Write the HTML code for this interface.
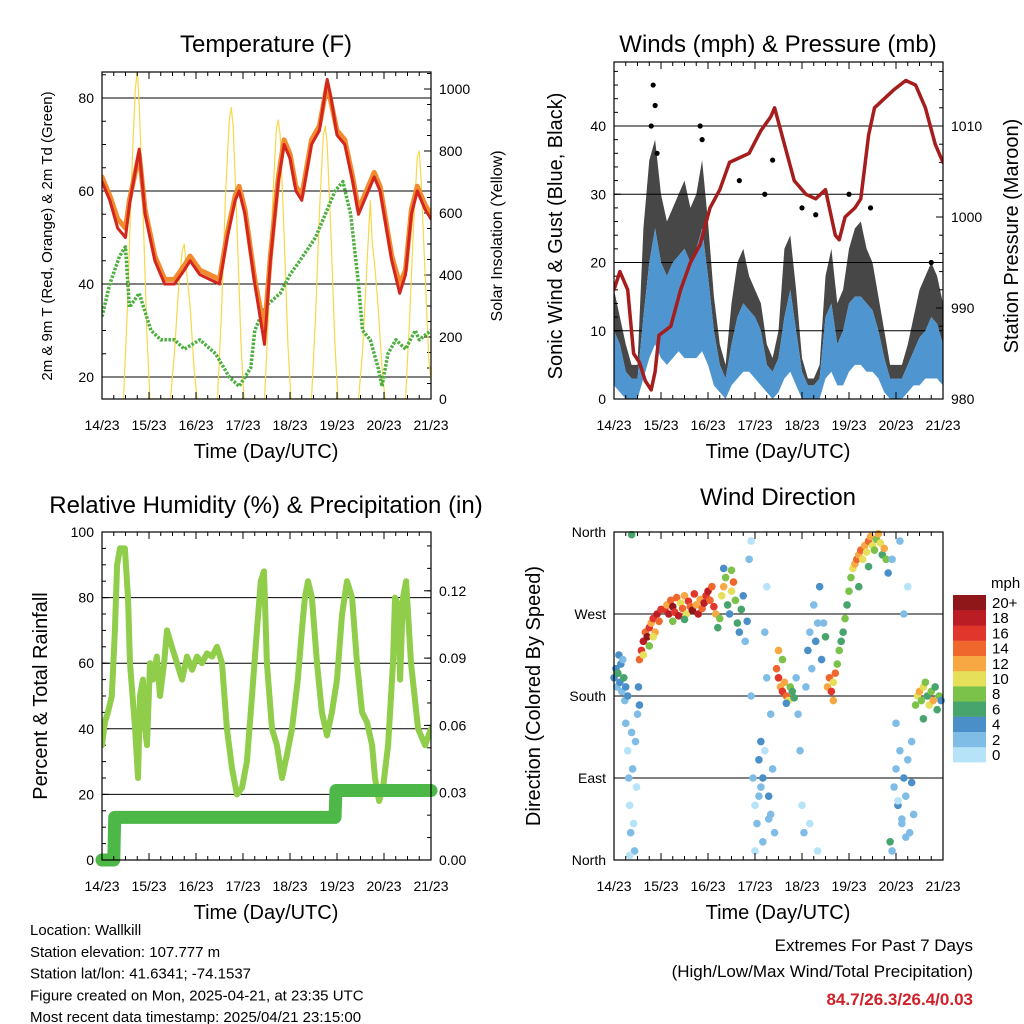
<!DOCTYPE html>
<html><head><meta charset="utf-8">
<style>
html,body{margin:0;padding:0;background:#fff;}
svg{display:block;font-family:"Liberation Sans",sans-serif;}
</style></head>
<body>
<svg id="chart" width="1024" height="1024" viewBox="0 0 1024 1024" xmlns="http://www.w3.org/2000/svg"></svg>
<script>
// ---------- DATA ----------
const days = ["14/23","15/23","16/23","17/23","18/23","19/23","20/23","21/23"];
const tempTimes = [0,4,8,12,14,19,22,27,32,37,42,45,50,55,60,64,68,70,73,78,83,86,90,93,96,99,102,107,111,115,117,120,124,128,131,136,139,142,148,152,155,158,161,165,168];
const temp2m = [62,58,52,50,57,69,55,45,40,40,43,45,42,41,40,50,58,60,55,40,27,45,62,70,67,60,58,70,73,84,80,72,70,62,55,60,63,60,45,38,42,55,60,56,54];
const temp9m = [63,59,54,52,58,68,56,46,41,41,44,46,43,42,41,51,59,61,56,41,30,46,63,71,68,61,59,71,74,83,79,73,71,63,56,61,64,61,46,40,43,56,61,57,55];
const dewTimes = [0,4,9,12,14,19,25,30,37,42,50,58,65,70,76,78,83,91,96,101,109,114,119,123,127,131,133,137,141,143,146,150,155,160,162,168];
const dewVals = [33,40,46,48,35,38,30,28,28,26,28,25,20,18,22,30,35,38,42,45,50,55,60,62,55,40,30,28,22,18,25,28,26,30,28,30];
const solarTimes = [11,13,15,17,18,19,21,23,24.5, 35,37,39,41,42,43,45,47,48.5, 59,61,63,65,66,67,69,71,72.5, 83,85,87,89,90,91,93,95,96.5, 107,109,111,113,114,115,117,119,120.5, 131,133,135,137,138,139,141,143,144.5, 155,157,159,161,162,163,165,167,168];
const solarVals = [0,300,700,1000,1060,950,600,200,0, 0,150,350,480,500,420,300,100,0, 0,280,650,900,940,880,550,180,0, 0,270,620,870,900,850,530,170,0, 0,260,600,850,880,820,520,170,0, 0,150,400,640,500,450,300,100,0, 0,250,550,780,800,700,400,120,60];
const presTimes = [0,3,7,10,13,16,19,21,23,29,34,39,44,49,54,59,64,69,75,80,82,87,92,98,103,108,113,115,118,123,126,130,133,138,143,149,154,159,164,168];
const presVals = [992,994,992,985,984,982,981,983,987,988,992,995,997,1001,1003,1006,1006.5,1007,1009.5,1011,1012,1008,1004,1002.5,1002,1003,998,997.5,1000,1001,1002,1009,1012,1013,1014,1015,1014.5,1012,1008,1006];
const windTimes = [0,3,6,9,12,15,18,21,24,27,30,33,36,39,42,45,48,51,54,57,60,63,66,69,72,75,78,81,84,87,90,93,96,99,102,105,108,111,114,117,120,123,126,129,132,135,138,141,144,147,150,153,156,159,162,165,168];
const windHigh = [10,8,4,3,3,12,20,25,20,18,20,21,22,20,22,25,18,10,5,3,8,12,14,13,12,10,5,4,6,12,16,10,4,2,2,3,12,14,8,10,14,15,15,14,13,10,6,3,3,3,5,7,9,10,12,11,8];
const windLow = [2,1,0,0,0,3,6,8,6,5,6,7,6,6,6,7,5,2,1,0,2,3,4,4,3,2,1,0,1,3,4,2,0,0,0,0,3,4,2,2,4,5,5,4,4,3,1,0,0,0,1,2,2,3,3,3,2];
const gustHigh = [16,12,8,5,5,25,35,38,30,26,28,30,32,28,30,35,26,15,8,5,14,20,22,18,16,14,8,6,10,22,24,16,6,3,3,5,18,22,14,16,22,25,26,22,20,15,10,5,5,5,8,12,16,18,20,18,14];
const gustPeakTimes = [19,20,21,22,44,45,64,77,81,96,103,120,131,162];
const gustPeakVals = [40,46,43,36,40,38,32,30,35,28,27,30,28,20];
const rhTimes = [0,1.5,3,5,6.6,7.7,9.2,11.7,13.3,14.3,16.9,18.4,19.4,20.9,22,23,24.5,26,28,29.6,31.7,33.2,35.7,38.3,40.9,43.4,46,48.5,51,53.6,56.2,58.7,61.3,63.8,66.4,68.9,71.5,74,76.6,79.1,81.1,82.7,84.2,86.8,89.3,91.9,94.4,97,100,102.1,103.6,105.2,107.2,109.8,112.3,114.9,117.4,120,122.6,125.1,127.7,130.2,132.8,135.3,137.9,139.4,141.5,143.5,146.1,148.6,149.6,151.1,152.2,153.7,155.3,157.8,161.4,165,168];
const rhVals = [35,42,45,50,70,90,95,95,80,60,40,25,50,55,40,35,60,55,62,50,60,70,65,60,55,62,58,62,60,63,62,65,60,40,28,20,22,30,50,70,85,88,60,40,35,25,32,40,55,70,80,85,80,60,45,38,45,55,75,85,80,60,45,42,35,25,18,22,35,60,80,78,55,80,85,60,40,35,40];
const precipTimes = [0,6,6.5,119,119.5,168];
const precipVals = [0,0,0.019,0.019,0.031,0.031];
const dirTimes = [0,1,1.5,2,3,3.5,4,5,5.5,6,7,2.5,4.5, 6,7,7.5,8,8.5,9,9.5,10,10.5,11,11.5,12,8,13,12.5,9, 13,14,15,16,17,18,19,20,21,22,23,24,15,18,20, 26,27,28,29,30,31,32,33,34,35,36,37,38,39,40,41,42,43,44,45,46,47,48,49,50,51,52,30,36, 53,54,55,56,57,58,59,60,61,62,63,64,65,66,67,68,56,60, 69,70,71,72,73,74,75,76,77,78,79,80,81,82,70,75,72,78,80,76,74,77,79, 83,84,85,86,87,88,89,90,91,92,84,86,88, 93,94,95,96,97,98,99,100,101,102,103,104,105,106,107,108,100,104, 109,110,111,112,113,114,115,116,117,118,112, 119,120,121,122,123,124,125,126,127,128,129,130,131,132,133,134,135,136,137,138,139,140,125,130, 141,142,143,144,145,146,147,148,149,150,151,152,153,142,146,148,150,144,152,145,147,149, 154,155,156,157,158,159,160,161,162,163,164,165,166,167,158];
const dirVals = [200,210,190,205,195,215,185,200,175,190,180,225,220, 150,120,90,60,30,140,100,40,10,130,80,160,5,170,190,357, 220,230,240,250,245,255,260,265,250,270,262,275,225,235,245, 275,280,270,285,278,272,288,268,282,276,290,270,284,278,274,292,280,270,286,276,282,290,295,285,300,278,270,262,264, 255,265,290,300,310,280,270,295,305,285,260,250,275,290,240,262,320,318, 330,180,90,60,40,110,80,20,250,300,70,50,100,30,350,130,10,200,160,90,70,120,45, 210,200,190,185,195,180,175,190,185,178,230,220,172, 200,160,120,60,30,190,230,250,210,280,240,260,300,220,260,245,40,10, 190,200,185,195,205,215,230,240,250,265,175, 280,295,310,320,325,330,335,340,330,345,338,350,355,345,340,352,358,348,335,342,330,315,300,322, 20,10,80,100,60,120,40,90,70,110,30,130,50,330,350,270,300,150,85,65,45,25, 170,180,185,175,190,195,180,170,185,175,190,165,180,175,155];
const dirSpeeds = [4,5,3,6,4,5,3,7,3,5,4,4,3, 2,1,2,1,2,2,3,1,2,2,1,3,1,4,5,7, 14,16,18,15,20,17,13,16,12,18,14,16,10,8,11, 17,12,19,15,20,16,14,18,11,15,13,10,17,14,20,16,13,18,12,15,19,16,18,14,15,17,12,9,7, 6,8,10,12,9,7,5,11,14,8,6,4,7,5,3,5,4,9, 2,3,2,1,3,4,3,2,2,1,4,3,3,2,1,4,1,2,3,5,2,1,3, 14,16,12,17,13,15,11,9,7,6,12,8,5, 3,2,2,1,2,3,4,3,2,3,4,3,4,5,2,6,1,1, 12,15,17,11,14,9,8,7,6,8,13, 7,9,8,11,12,14,13,15,11,12,10,14,13,11,9,8,12,10,7,13,9,5,6,7, 7,3,2,3,4,2,3,4,3,2,3,2,2,3,2,2,1,3,4,1,2,3, 8,10,12,9,11,8,7,10,9,12,6,7,8,5,6];
const speedColors = ["#b6e3f8","#80bde6","#4a8fc8","#46a46c","#7bc24a","#e6df5a","#f7a843","#ef672d","#e0362b","#bb1d24","#8f1619"];
const speedLabels = ["0","2","4","6","8","10","12","14","16","18","20+"];
const extremes = "84.7/26.3/26.4/0.03";

// ---------- HELPERS ----------
const NS="http://www.w3.org/2000/svg";
const svg=document.getElementById('chart');
function mk(tag, attrs, parent){
  const e=document.createElementNS(NS,tag);
  for(const k in attrs) e.setAttribute(k, attrs[k]);
  (parent||svg).appendChild(e);
  return e;
}
function txt(x,y,s,size,anchor,parent,extra){
  const t=mk('text',Object.assign({x:x,y:y,'font-size':size,'text-anchor':anchor||'middle',fill:'#000'},extra||{}),parent);
  t.textContent=s;
  return t;
}
function panel(name,x0,x1,top,bot){
  const g=mk('g',{});
  
  
  const cp=mk('clipPath',{id:'clip-'+name},g);
  mk('rect',{x:x0,y:top,width:x1-x0,height:bot-top},cp);
  const xs=h=>x0+h*(x1-x0)/168;
  return {g,x0,x1,top,bot,xs,clip:'url(#clip-'+name+')'};
}
function frame(P){
  const r=mk('rect',{x:P.x0,y:P.top,width:P.x1-P.x0,height:P.bot-P.top,fill:'none',stroke:'#000','stroke-width':1.2},P.g);
  
  
  for(let h=0;h<=168;h+=6){
    const major=h%24===0;
    const L=major?7:4;
    const x=P.xs(h);
    const t1=mk('line',{x1:x,x2:x,y1:P.bot,y2:P.bot-L,stroke:'#000','stroke-width':1},P.g);
    
    
    const t2=mk('line',{x1:x,x2:x,y1:P.top,y2:P.top+L,stroke:'#000','stroke-width':1},P.g);
    
    
    if(major){
      const l=txt(x,P.bot+31,days[h/24],14,'middle',P.g);
      
      
    }
  }
}
function yTicks(P,vals,fy,labels,side,grid,minor){
  vals.forEach((v,i)=>{
    const y=fy(v);
    if(grid){
      const gl=mk('line',{x1:P.x0,x2:P.x1,y1:y,y2:y,stroke:'#000','stroke-width':1},P.g);
      
      
    }
    const x=side==='left'?P.x0:P.x1;
    const d=side==='left'?1:-1;
    const tk=mk('line',{x1:x,x2:x+d*7,y1:y,y2:y,stroke:'#000','stroke-width':1},P.g);
    
    
    const l=txt(side==='left'?P.x0-8:P.x1+8,y+5,labels[i],14,side==='left'?'end':'start',P.g);
    
    
  });
  (minor||[]).forEach(v=>{
    const y=fy(v);
    const x=side==='left'?P.x0:P.x1;
    const d=side==='left'?1:-1;
    const tk=mk('line',{x1:x,x2:x+d*4,y1:y,y2:y,stroke:'#000','stroke-width':1},P.g);
    
    
  });
}
function rng(a,b,s){const r=[];for(let v=a;v<=b+1e-9;v+=s)r.push(+v.toFixed(4));return r;}
function poly(P,times,vals,fy,attrs,name){
  const pts=times.map((t,i)=>P.xs(t).toFixed(1)+','+fy(vals[i]).toFixed(1)).join(' ');
  const p=mk('polyline',Object.assign({points:pts,fill:'none','clip-path':P.clip,'stroke-linejoin':'round','stroke-linecap':'round'},attrs),P.g);
  
  
  return p;
}
function band(P,times,lo,hi,fy,fill,name,op){
  const a=times.map((t,i)=>P.xs(t).toFixed(1)+','+fy(hi[i]).toFixed(1));
  const b=times.map((t,i)=>P.xs(t).toFixed(1)+','+fy(lo[i]).toFixed(1)).reverse();
  const p=mk('polygon',{points:a.concat(b).join(' '),fill:fill,'fill-opacity':op||1,'clip-path':P.clip},P.g);
  
  
}
function title(s,x,y){const t=txt(x,y,s,24,'middle');}
function vtitle(s,x,y,size,name){const t=txt(x,y,s,size,'middle',svg,{transform:'rotate(-90 '+x+' '+y+')'});}
function xtitle(x,y){const t=txt(x,y,'Time (Day/UTC)',20,'middle');}

// ---------- PANEL 1 ----------
const P1=panel('temperature-panel',102,431,72,399);
const t1y=v=>377-(v-20)*4.65;
const s1y=v=>399-v*0.31;
yTicks(P1,[20,40,60,80],t1y,['20','40','60','80'],'left',true,rng(20,85,5));
yTicks(P1,[0,200,400,600,800,1000],s1y,['0','200','400','600','800','1000'],'right',false,rng(0,1050,50));
poly(P1,solarTimes,solarVals,s1y,{stroke:'#f6d84a','stroke-width':1.2},'solar-insolation-line');
poly(P1,dewTimes,dewVals,t1y,{stroke:'#4caf3f','stroke-width':3.5,'stroke-dasharray':'2.5 1.5','stroke-linecap':'butt'},'dewpoint-line');
poly(P1,tempTimes,temp9m,t1y,{stroke:'#f28a2e','stroke-width':5},'temp-9m-line');
poly(P1,tempTimes,temp2m,t1y,{stroke:'#d2261e','stroke-width':3},'temp-2m-line');
frame(P1);
title('Temperature (F)',266,52);
vtitle('2m & 9m T (Red, Orange) & 2m Td (Green)',52,236,15,'left-y-axis-title');
vtitle('Solar Insolation (Yellow)',502,236,16,'right-y-axis-title');
xtitle(266,458);

// ---------- PANEL 2 ----------
const P2=panel('winds-panel',614,943,62,399);
const w2y=v=>399-v*6.825;
const p2y=v=>399-(v-980)*9.1;
yTicks(P2,[0,10,20,30,40],w2y,['0','10','20','30','40'],'left',true,rng(0,48,2));
yTicks(P2,[980,990,1000,1010],p2y,['980','990','1000','1010'],'right',false,rng(980,1016,2));
band(P2,windTimes,windHigh,gustHigh,w2y,'#000','gust-band',0.72);
gustPeakTimes.forEach((t,i)=>{
  const c=mk('circle',{cx:P2.xs(t),cy:w2y(gustPeakVals[i]),r:2.6,fill:'#000','clip-path':P2.clip},P2.g);
  
  
});
band(P2,windTimes,windLow,windHigh,w2y,'#4f96d0','wind-band',1);
poly(P2,presTimes,presVals,p2y,{stroke:'#a51d1d','stroke-width':3.5},'pressure-line');
frame(P2);
title('Winds (mph) & Pressure (mb)',778,52);
vtitle('Sonic Wind & Gust (Blue, Black)',562,236,20,'left-y-axis-title');
vtitle('Station Pressure (Maroon)',1018,236,20,'right-y-axis-title');
xtitle(778,458);

// ---------- PANEL 3 ----------
const P3=panel('humidity-panel',102,431,532,860);
const r3y=v=>860-v*3.28;
const q3y=v=>860-v/0.03*67.3;
yTicks(P3,[0,20,40,60,80,100],r3y,['0','20','40','60','80','100'],'left',true,rng(0,100,5));
yTicks(P3,[0,0.03,0.06,0.09,0.12],q3y,['0.00','0.03','0.06','0.09','0.12'],'right',false,rng(0,0.14,0.01));
poly(P3,rhTimes,rhVals,r3y,{stroke:'#8fcd4a','stroke-width':6},'humidity-line');
const pp=poly(P3,precipTimes,precipVals,q3y,{stroke:'#4db848','stroke-width':13},'precip-line');
pp.removeAttribute('clip-path');
frame(P3);
title('Relative Humidity (%) & Precipitation (in)',266,513);
vtitle('Percent & Total Rainfall',47,696,20,'left-y-axis-title');
xtitle(266,919);

// ---------- PANEL 4 ----------
const P4=panel('wind-direction-panel',614,943,532,860);
const d4y=v=>860-v*328/360;
yTicks(P4,[0,90,180,270,360],d4y,['North','East','South','West','North'],'left',true,[]);
dirTimes.forEach((t,i)=>{
  const bin=Math.min(10,Math.floor(dirSpeeds[i]/2));
  const c=mk('circle',{cx:P4.xs(t),cy:d4y(dirVals[i]),r:3.8,fill:speedColors[bin]},P4.g);
  
  
});
frame(P4);
title('Wind Direction',778,505);
vtitle('Direction (Colored By Speed)',540,696,20,'left-y-axis-title');
xtitle(778,919);
const cb=mk('g',{});


const cbt=txt(991,588,'mph',15,'start',cb);


speedColors.forEach((c,i)=>{
  const y=595+(10-i)*15.2;
  const r=mk('rect',{x:953,y:y,width:33,height:15.4,fill:c},cb);
  
  
  const l=txt(992,y+13,speedLabels[i],15,'start',cb);
  
  
});

// ---------- FOOTER ----------
const info=["Location: Wallkill","Station elevation: 107.777 m","Station lat/lon: 41.6341; -74.1537","Figure created on Mon, 2025-04-21, at 23:35 UTC","Most recent data timestamp: 2025/04/21 23:15:00"];
info.forEach((s,i)=>{
  const t=txt(30,935+i*21.8,s,15,'start');
  
  
});
const e1=txt(973,951,'Extremes For Past 7 Days',17,'end');


const e2=txt(973,977,'(High/Low/Max Wind/Total Precipitation)',17,'end');


const e3=txt(973,1005,extremes,17,'end',svg,{fill:'#d0202a','font-weight':'bold'});


</script>
</body></html>
